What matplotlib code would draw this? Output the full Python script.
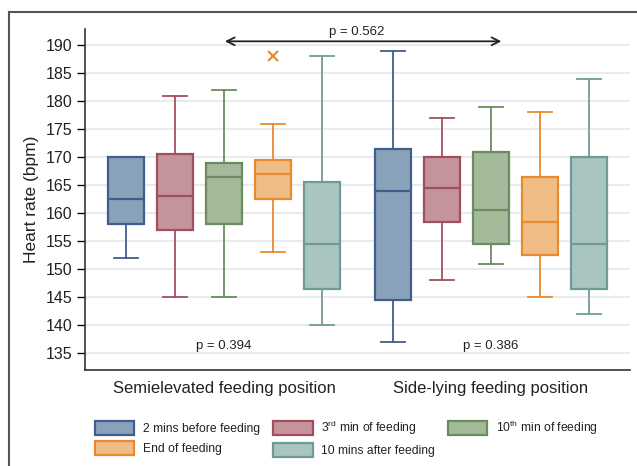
import matplotlib
matplotlib.use("Agg")
import matplotlib.pyplot as plt
from matplotlib.patches import Patch
from matplotlib.lines import Line2D

plt.rcParams['font.family'] = ['Liberation Sans', 'DejaVu Sans']
plt.rcParams['mathtext.fontset'] = 'custom'
plt.rcParams['mathtext.rm'] = 'Liberation Sans'

groups = ["Semielevated feeding position", "Side-lying feeding position"]
series = ["2 mins before feeding", "3$^{\\mathrm{rd}}$ min of feeding", "10$^{\\mathrm{th}}$ min of feeding",
          "End of feeding", "10 mins after feeding"]

# [group][series]
q1 = [[158, 157, 158, 162.5, 146.5], [144.5, 158.5, 154.5, 152.5, 146.5]]
med = [[162.5, 163, 166.5, 167, 154.5], [164, 164.5, 160.5, 158.5, 154.5]]
q3 = [[170, 170.5, 169, 169.5, 165.5], [171.5, 170, 171, 166.5, 170]]
wlo = [[152, 145, 145, 153, 140], [137, 148, 151, 145, 142]]
whi = [[170, 181, 182, 176, 188], [189, 177, 179, 178, 184]]
fliers = [[[], [], [], [188], []], [[], [], [], [], []]]

p_between = "p = 0.562"
p_within = ["p = 0.394", "p = 0.386"]

face = ["#8aa1ba", "#c5939c", "#a3ba9b", "#f0bc85", "#aac4c0"]
edge = ["#3e5f8c", "#a24f5d", "#6b8c5c", "#e98a2f", "#6f9b96"]

W, H = 637, 466
fig = plt.figure(figsize=(W / 100, H / 100), dpi=100)
ax = fig.add_axes([85 / W, 1 - 370 / H, (630 - 85) / W, (370 - 29) / H])

group_gap = 5.45
for g in range(2):
    for s in range(5):
        pos = g * group_gap + s
        st = dict(med=med[g][s], q1=q1[g][s], q3=q3[g][s], whislo=wlo[g][s],
                  whishi=whi[g][s], fliers=fliers[g][s])
        ax.bxp([st], positions=[pos], widths=0.74, capwidths=0.49, patch_artist=True,
               showfliers=True,
               boxprops=dict(facecolor=face[s], edgecolor=edge[s], linewidth=1.6),
               medianprops=dict(color=edge[s], linewidth=1.6),
               whiskerprops=dict(color=edge[s], linewidth=1.3),
               capprops=dict(color=edge[s], linewidth=1.3),
               flierprops=dict(marker='x', markeredgecolor=edge[s], markersize=7,
                               markeredgewidth=1.5, linestyle='none'),
               manage_ticks=False, zorder=3)

ax.set_xlim(-0.84, 10.29)
ax.set_ylim(132, 192.9)
ax.set_yticks(range(135, 191, 5))
ax.yaxis.grid(True, color="#e3e7ee", linewidth=1.2, zorder=0)
ax.set_axisbelow(True)
centers = [2, group_gap + 2]
ax.set_xticks(centers)
ax.set_xticklabels(groups, fontsize=12, color="#222222")
ax.tick_params(axis='x', length=0, pad=8)
ax.tick_params(axis='y', length=6, width=1, labelsize=11.5, labelcolor="#222222", pad=3)
for sp in ['top', 'right']:
    ax.spines[sp].set_visible(False)
for sp in ['left', 'bottom']:
    ax.spines[sp].set_linewidth(1.2)
    ax.spines[sp].set_color("#333333")
ax.set_ylabel("Heart rate (bpm)", fontsize=12.5, color="#222222", labelpad=5)

# comparison arrow
ax.annotate("", xy=(7.72, 190.7), xytext=(1.96, 190.7),
            arrowprops=dict(arrowstyle="<->", color="#222222", lw=1.3, mutation_scale=14),
            annotation_clip=False)
ax.text(4.7, 192.3, p_between, ha='center', va='center', fontsize=9.5, color="#222222")
for g in range(2):
    ax.text(centers[g], 136.2, p_within[g], ha='center', va='center', fontsize=9.5, color="#222222")

handles = [Patch(facecolor=face[s], edgecolor=edge[s], linewidth=1.6) for s in range(5)]
order = [0, 3, 1, 4, 2]  # row-wise fill for 3 columns
fig.legend([handles[i] for i in order], [series[i] for i in order], loc='center',
           bbox_to_anchor=(346 / W, 1 - 438 / H), ncol=3,
           frameon=False, fontsize=8.7, handlelength=3.3, handleheight=1.4,
           handletextpad=0.67, columnspacing=1.08, labelspacing=0.55, borderpad=0,
           labelcolor="#222222")

# outer frame (cropped)
fig.add_artist(Line2D([9 / W, 1], [1 - 12 / H, 1 - 12 / H], color="#555555", lw=1.5))
fig.add_artist(Line2D([9 / W, 9 / W], [0, 1 - 12 / H], color="#555555", lw=1.5))

fig.savefig("out.png", dpi=100)
